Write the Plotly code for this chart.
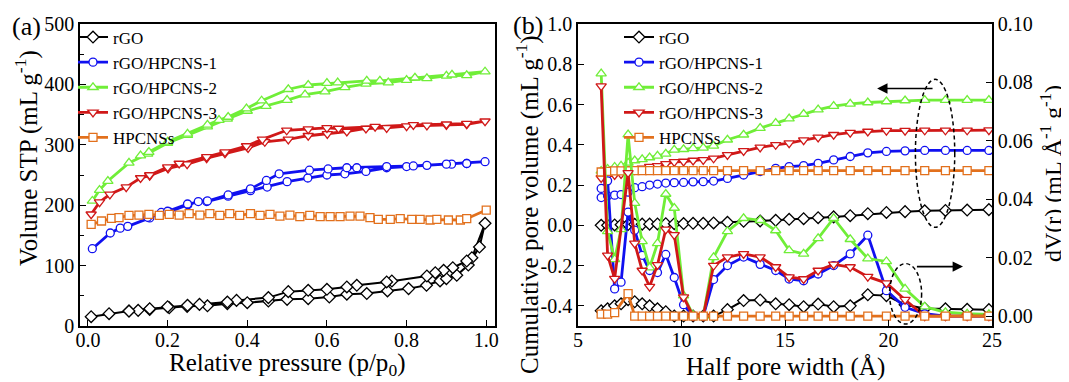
import plotly.graph_objects as go

# ---------------- (a) N2 isotherms ----------------
rgo_ads_p = [0.008, 0.053, 0.103, 0.126, 0.155, 0.204, 0.249, 0.3, 0.35, 0.4, 0.453, 0.5, 0.553, 0.606,
             0.65, 0.7, 0.752, 0.805, 0.85, 0.884, 0.9, 0.926, 0.955, 0.983, 0.997]
rgo_ads_v = [15.4, 20.4, 24.8, 25.9, 27.5, 30.2, 32.5, 33.5, 37, 38.6, 41.4, 44.1, 45.3, 48,
             52.6, 53.7, 58, 61.9, 67.4, 74.6, 78.4, 84, 100.9, 130.8, 170]
rgo_des_p = [0.964, 0.951, 0.916, 0.893, 0.872, 0.851, 0.763, 0.75, 0.675, 0.65, 0.6, 0.553, 0.503,
             0.453, 0.373, 0.35, 0.28, 0.25, 0.2, 0.155, 0.103]
rgo_des_v = [113, 107.6, 96.5, 92.1, 88.3, 82.8, 74.5, 72.9, 67.4, 64.6, 60.7, 59.1, 56.9,
             47, 42.4, 39.7, 35.8, 34.2, 32, 28.6, 24.8]

h1_ads_p = [0.011, 0.056, 0.081, 0.1, 0.155, 0.184, 0.204, 0.251, 0.277, 0.298, 0.352, 0.408, 0.45, 0.5,
            0.552, 0.6, 0.645, 0.698, 0.75, 0.8, 0.851, 0.913, 0.951, 0.997]
h1_ads_v = [128, 154, 162, 165, 179, 188, 189, 201, 206, 206, 215, 224, 230, 239,
            245, 250, 252, 256, 262, 264, 266, 268, 269, 272]
h1_des_p = [0.951, 0.9, 0.817, 0.75, 0.675, 0.65, 0.603, 0.556, 0.48, 0.448, 0.408, 0.352, 0.3, 0.25,
            0.2, 0.15]
h1_des_v = [269, 268, 265, 264, 262, 262, 260, 258, 252, 241, 227, 217, 207, 202, 190, 180]

h2_ads_p = [0.011, 0.029, 0.05, 0.103, 0.15, 0.2, 0.25, 0.3, 0.35, 0.4, 0.447, 0.5, 0.545, 0.595,
            0.645, 0.698, 0.754, 0.8, 0.851, 0.9, 0.951, 0.997]
h2_ads_v = [207, 225, 240, 270, 285, 303, 316, 330, 343, 356, 364, 374, 383, 388,
            395, 401, 403, 407, 410, 414, 415, 421]
h2_des_p = [0.914, 0.821, 0.733, 0.7, 0.627, 0.6, 0.553, 0.503, 0.436, 0.398, 0.352, 0.329, 0.3, 0.25,
            0.2, 0.153, 0.132]
h2_des_v = [416, 411, 406, 406, 403, 402, 399, 392, 373, 360, 346, 341, 333, 318, 305, 288, 282]

h3_ads_p = [0.008, 0.029, 0.055, 0.096, 0.132, 0.155, 0.201, 0.249, 0.298, 0.344, 0.402, 0.444, 0.503,
            0.553, 0.601, 0.65, 0.698, 0.75, 0.8, 0.851, 0.9, 0.951, 0.997]
h3_ads_v = [185, 205, 218, 230, 245, 249, 261, 268, 278, 286, 295, 305, 309,
            315, 318, 322, 327, 328, 331, 332, 333, 334, 339]
h3_des_p = [0.951, 0.9, 0.817, 0.721, 0.629, 0.6, 0.553, 0.499, 0.438, 0.398, 0.344, 0.298, 0.229,
            0.2, 0.155]
h3_des_v = [335, 334, 333, 330, 327, 328, 326, 324, 309, 298, 288, 280, 269, 263, 250]

hp_p = [0.008, 0.034, 0.059, 0.078, 0.103, 0.128, 0.153, 0.179, 0.204, 0.229, 0.254, 0.281, 0.306,
        0.331, 0.356, 0.381, 0.408, 0.432, 0.457, 0.482, 0.507, 0.532, 0.557, 0.583, 0.608, 0.633,
        0.658, 0.683, 0.708, 0.729, 0.759, 0.784, 0.813, 0.834, 0.859, 0.876, 0.905, 0.935, 0.951, 1.0]
hp_v = [168.3, 173.8, 178.2, 179.3, 183.3, 183.7, 184.8, 183.3, 184.8, 183.7, 186, 183.7, 186,
        183.3, 186, 183.3, 186, 183.3, 184.8, 182, 183.7, 181, 183.3, 181, 181, 181,
        182, 182, 179.3, 176.6, 176.6, 177.7, 176.6, 176.6, 175.5, 176.6, 175.5, 175.5, 177.7, 192]

# ---------------- (b) pore size distribution ----------------
half_width = [6.12, 6.43, 6.77, 7.08, 7.42, 7.74, 8.1, 8.46, 8.84, 9.24, 9.65, 10.1, 10.56, 11.05,
              11.55, 12.22, 13.0, 13.8, 14.55, 15.2, 15.9, 16.6, 17.35, 18.15, 19.0, 19.9, 20.8,
              21.75, 22.75, 23.8, 24.85]

cum_rgo = [0.0, 0.0, 0.002, 0.003, 0.004, 0.005, 0.006, 0.006, 0.007, 0.008, 0.008, 0.009, 0.01, 0.01,
           0.012, 0.015, 0.02, 0.022, 0.025, 0.03, 0.033, 0.038, 0.042, 0.048, 0.058, 0.064, 0.068,
           0.072, 0.074, 0.076, 0.078]
cum_h1 = [0.138, 0.146, 0.15, 0.153, 0.165, 0.187, 0.192, 0.2, 0.205, 0.21, 0.212, 0.213, 0.216, 0.217,
          0.22, 0.233, 0.25, 0.267, 0.283, 0.292, 0.297, 0.308, 0.325, 0.342, 0.36, 0.367, 0.37,
          0.372, 0.372, 0.372, 0.372]
cum_h2 = [0.27, 0.28, 0.29, 0.295, 0.31, 0.322, 0.328, 0.337, 0.345, 0.355, 0.375, 0.378, 0.382, 0.385,
          0.395, 0.425, 0.45, 0.483, 0.508, 0.53, 0.553, 0.575, 0.592, 0.603, 0.61, 0.615, 0.62,
          0.622, 0.622, 0.622, 0.622]
cum_h3 = [0.235, 0.245, 0.25, 0.255, 0.265, 0.275, 0.283, 0.292, 0.295, 0.305, 0.315, 0.317, 0.322, 0.325,
          0.333, 0.35, 0.37, 0.387, 0.4, 0.408, 0.423, 0.437, 0.45, 0.46, 0.466, 0.47, 0.47,
          0.472, 0.472, 0.472, 0.473]
cum_hp = [0.265, 0.268, 0.27, 0.27, 0.271, 0.272, 0.272, 0.272, 0.272, 0.272, 0.272, 0.272, 0.272, 0.272,
          0.272, 0.272, 0.272, 0.272, 0.272, 0.272, 0.272, 0.272, 0.272, 0.272, 0.272, 0.272, 0.272,
          0.272, 0.272, 0.272, 0.272]

dv_rgo = [0.0018, 0.0025, 0.0035, 0.0042, 0.0056, 0.0049, 0.0042, 0.0035, 0.0025, 0.0015, 0.0, 0.0, 0.0, 0.0,
          0.0, 0.0022, 0.0053, 0.0055, 0.0042, 0.0039, 0.0032, 0.0041, 0.0032, 0.0035, 0.0073, 0.007,
          0.0039, 0.0026, 0.0025, 0.0023, 0.0022]
dv_h1 = [0.0437, 0.0463, 0.0093, 0.0116, 0.0356, 0.0294, 0.0208, 0.0156, 0.0149, 0.0211, 0.0132, 0.0039,
         0.0, 0.0, 0.0125, 0.0173, 0.0202, 0.0177, 0.0156, 0.0127, 0.0121, 0.0144, 0.0173, 0.0213,
         0.0277, 0.0087, 0.003, 0.0008, 0.0, 0.0, 0.0]
dv_h2 = [0.083, 0.029, 0.0194, 0.0297, 0.0621, 0.0387, 0.0256, 0.0166, 0.0249, 0.0418, 0.037, 0.007,
         0.0003, 0.0, 0.0201, 0.029, 0.0335, 0.0328, 0.0293, 0.0225, 0.0213, 0.0266, 0.0335, 0.0263,
         0.0197, 0.0187, 0.0093, 0.0032, 0.0013, 0.0008, 0.0006]
dv_h3 = [0.0787, 0.0208, 0.0128, None, 0.049, 0.0249, 0.0156, 0.0101, 0.0175, 0.0297, 0.0278, 0.0065,
         0.0, 0.0, 0.0173, 0.0202, 0.0213, 0.0202, 0.0168, 0.0133, 0.0127, 0.0156, 0.0177, 0.0168,
         0.0135, 0.0113, 0.0056, 0.0, 0.0, 0.0, 0.0]
dv_hp = [0.0007, 0.0007, 0.0012, None, 0.0077, 0.0, 0.0, 0.0, 0.0, 0.0, 0.0, 0.0, 0.0, 0.0,
         0.0, 0.0, 0.0, 0.0, 0.0, 0.0, 0.0, 0.0, 0.0, 0.0, 0.0, 0.0, 0.0, 0.0, 0.0, 0.0, 0.0]

names = ["rGO", "rGO/HPCNS-1", "rGO/HPCNS-2", "rGO/HPCNS-3", "HPCNSs"]
colors = ["#000000", "#1010f0", "#70ee38", "#d01818", "#e2701c"]
symbols = ["diamond", "circle", "triangle-up", "triangle-down", "square"]
line_w = [2, 2.8, 2.8, 2.8, 2.8]
msize = [9, 8, 9, 9, 8]

FONT = "Liberation Serif"
W, H = 1061, 374   # page body adds an 8 px offset inside the 1069x382 window

iso_x = [rgo_ads_p + rgo_des_p, h1_ads_p + h1_des_p, h2_ads_p + h2_des_p, h3_ads_p + h3_des_p, hp_p]
iso_y = [rgo_ads_v + rgo_des_v, h1_ads_v + h1_des_v, h2_ads_v + h2_des_v, h3_ads_v + h3_des_v, hp_v]
cums = [cum_rgo, cum_h1, cum_h2, cum_h3, cum_hp]
dvs = [dv_rgo, dv_h1, dv_h2, dv_h3, dv_hp]

fig = go.Figure()


def mk(i):
    return dict(symbol=symbols[i], size=msize[i], color="white",
                line=dict(color=colors[i], width=1.3))


for i in range(5):
    fig.add_trace(go.Scatter(x=iso_x[i], y=iso_y[i], mode="lines+markers", name=names[i],
                             line=dict(color=colors[i], width=line_w[i]), marker=mk(i),
                             xaxis="x", yaxis="y", legend="legend"))
for i in range(5):
    fig.add_trace(go.Scatter(x=half_width, y=cums[i], mode="lines+markers", name=names[i],
                             line=dict(color=colors[i], width=line_w[i]), marker=mk(i),
                             xaxis="x2", yaxis="y2", showlegend=False))
for i in range(5):
    fig.add_trace(go.Scatter(x=half_width, y=dvs[i], mode="lines+markers", name=names[i],
                             connectgaps=True,
                             line=dict(color=colors[i], width=line_w[i]), marker=mk(i),
                             xaxis="x2", yaxis="y3", legend="legend2"))

ax_common = dict(showline=True, linecolor="black", linewidth=1.5, mirror=True, ticks="inside",
                 ticklen=6, tickwidth=1.3, tickcolor="black", showgrid=False, zeroline=False,
                 automargin=False,
                 tickfont=dict(family=FONT, size=20, color="black"))


def px(sx):
    return (sx - 8) / W


def py(sy):
    return (H - (sy - 8)) / H


ydom = [py(326), py(24)]
fig.update_layout(
    width=W, height=H, margin=dict(l=0, r=0, t=0, b=0, autoexpand=False),
    paper_bgcolor="white", plot_bgcolor="white",
    font=dict(family=FONT, color="black"),
    xaxis=dict(domain=[px(80), px(495)], range=[-0.02, 1.022], tickvals=[0, 0.2, 0.4, 0.6, 0.8, 1.0],
               ticktext=["0.0", "0.2", "0.4", "0.6", "0.8", "1.0"], anchor="y",
               ticklabelstandoff=-5, **ax_common),
    yaxis=dict(domain=ydom, range=[0, 500], dtick=100, anchor="x",
               minor=dict(dtick=50, ticks="inside", ticklen=4, tickcolor="black"),
               **ax_common),
    xaxis2=dict(domain=[px(578), px(992)], range=[5, 25], tickvals=[5, 10, 15, 20, 25], anchor="y2",
                ticklabelstandoff=-5, **ax_common),
    yaxis2=dict(domain=ydom, range=[-0.5, 1.0], anchor="x2",
                tickvals=[-0.4, -0.2, 0, 0.2, 0.4, 0.6, 0.8, 1.0],
                ticktext=["-0.4", "-0.2", "0.0", "0.2", "0.4", "0.6", "0.8", "1.0"],
                **ax_common),
    yaxis3=dict(range=[-0.0034, 0.1], overlaying="y2", side="right", anchor="x2",
                tickvals=[0, 0.02, 0.04, 0.06, 0.08, 0.10],
                ticktext=["0.00", "0.02", "0.04", "0.06", "0.08", "0.10"],
                **ax_common),
    legend=dict(x=px(73), y=py(19.5), xanchor="left", yanchor="top", bgcolor="rgba(0,0,0,0)",
                font=dict(family=FONT, size=17, color="black"), tracegroupgap=0, itemwidth=30),
    legend2=dict(x=px(619), y=py(19.5), xanchor="left", yanchor="top", bgcolor="rgba(0,0,0,0)",
                 font=dict(family=FONT, size=17, color="black"), tracegroupgap=0, itemwidth=30),
)

# axis titles (sx, sy = centre in window pixels)
titles = [
    ("Relative pressure (p/p<sub>0</sub>)", 287, 364, 0, 25),
    ("Volume STP (mL g<sup>-1</sup>)", 26, 158, -90, 25),
    ("Half pore width (Å)", 785, 367, 0, 25),
    ("Cumulative pore volume (mL g<sup>-1</sup>)", 527, 205, -90, 25),
    ("dV(r) (mL Å<sup>-1</sup> g<sup>-1</sup>)", 1051, 174, -90, 24),
]
for txt, sx, sy, ang, fs in titles:
    fig.add_annotation(text=txt, x=px(sx), y=py(sy), xref="paper", yref="paper", textangle=ang,
                       xanchor="center", yanchor="middle", showarrow=False,
                       font=dict(family=FONT, size=fs, color="black"))

# panel labels
fig.add_annotation(text="(a)", x=px(10), y=py(27), xref="paper", yref="paper",
                   xanchor="left", yanchor="middle", showarrow=False,
                   font=dict(family=FONT, size=26, color="black"))
fig.add_annotation(text="(b)", x=px(511), y=py(26), xref="paper", yref="paper",
                   xanchor="left", yanchor="middle", showarrow=False,
                   font=dict(family=FONT, size=26, color="black"))

# dashed ellipses and arrows in (b)
fig.add_shape(type="circle", xref="x2", yref="y2", x0=21.3, x1=23.2, y0=-0.01, y1=0.725,
              line=dict(color="black", width=1.5, dash="4px,3px"))
fig.add_shape(type="circle", xref="x2", yref="y2", x0=20.05, x1=21.6, y0=-0.49, y1=-0.19,
              line=dict(color="black", width=1.5, dash="4px,3px"))
fig.add_annotation(x=19.45, y=0.68, ax=22.2, ay=0.68, xref="x2", yref="y2", axref="x2", ayref="y2",
                   text="", showarrow=True, arrowhead=2, arrowsize=1.3, arrowwidth=1.6, arrowcolor="black")
fig.add_annotation(x=23.6, y=-0.205, ax=21.3, ay=-0.205, xref="x2", yref="y2", axref="x2", ayref="y2",
                   text="", showarrow=True, arrowhead=2, arrowsize=1.3, arrowwidth=1.6, arrowcolor="black")

fig.write_html("out.html")
